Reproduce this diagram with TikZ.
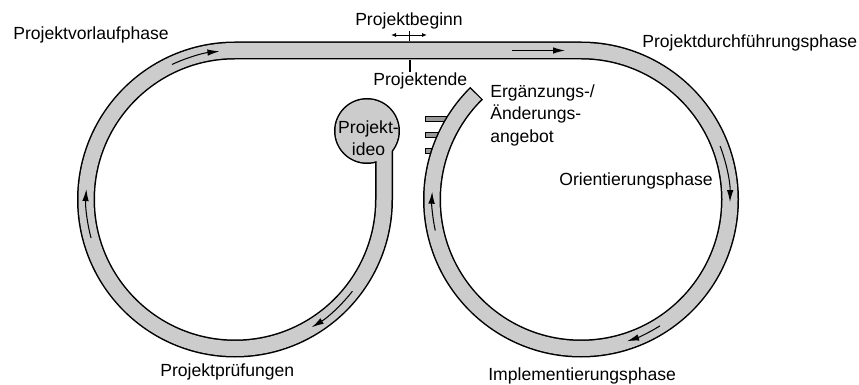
\documentclass[tikz,border=0pt]{standalone}
\usepackage{fontspec}
\setmainfont{Liberation Sans}
\usetikzlibrary{arrows.meta}
\tikzset{
  bandout/.style={line width=0.36cm, black},
  bandin/.style={line width=0.30cm, gray!40},
  flowarrow/.style={-{Latex[length=2.4mm,width=1.3mm]}, line width=0.6pt},
  lbl/.style={anchor=base west, inner sep=0pt, font=\fontsize{10}{12.8}\selectfont}
}
% centre line of the band, from the idea circle round both loops
\newcommand{\bandpath}[1]{(7.68,4.85) -- (7.68,3.69)
  arc[start angle=0, end angle=-270, radius=2.98] -- (11.62,6.67)
  arc[start angle=90, end angle=#1, radius=2.98]}
\begin{document}
\begin{tikzpicture}
  \useasboundingbox (0,0) rectangle (17.18,7.68);
  \coordinate (c1) at (4.70,3.69);
  \coordinate (c2) at (11.62,3.69);
  \coordinate (idee) at (7.34,5.06);
  % bars at the offer
  \foreach \y/\w in {5.26/0.6, 4.94/0.5, 4.62/0.4}
    \filldraw[fill=gray!80, line width=0.3pt] (8.5,\y) rectangle ++(\w,0.09);
  % Band
  \draw[bandout] \bandpath{-225.5};
  \fill (idee) circle (0.66);
  \draw[bandin] \bandpath{-225};
  \fill[gray!40] (idee) circle (0.63);
  % Arrows in the band
  \foreach \c/\a/\b in {c1/115/96, c1/195/176, c1/-38/-59,
                        c2/21/-1, c2/-58/-72, c2/192/177}
    \draw[flowarrow] (\c) ++(\a:2.98) arc[start angle=\a, end angle=\b, radius=2.98];
  \draw[flowarrow] (10.24,6.67) -- (11.30,6.67);
  % Labels
  \node[align=center, inner sep=0pt, font=\fontsize{10}{12.5}\selectfont]
    (ideetext) at (7.37,4.92) {Projekt-\\ideo};
  \node[lbl] (vorlauf) at (0.26,6.88) {Projektvorlaufphase};
  \node[lbl, anchor=base] (beginn) at (8.18,7.16) {Projektbeginn};
  \node[lbl] (ende) at (7.46,5.96) {Projektende};
  \node[lbl] (durch) at (12.84,6.72) {Projektdurchführungsphase};
  \node[lbl, anchor=north west, align=left] (angebot) at (9.80,6.0)
    {Ergänzungs-/\\Änderungs-\\angebot};
  \node[lbl] (orient) at (11.18,3.96) {Orientierungsphase};
  \node[lbl] (impl) at (9.76,0.06) {Implementierungsphase};
  \node[lbl] (pruef) at (3.20,0.14) {Projektprüfungen};
  % Start and end marks
  \coordinate (bt) at (8.18,7.05);
  \coordinate (bb) at (8.18,6.86);
  \draw[line width=0.5pt] (bt) -- (bb);
  \draw[{Latex[length=1mm,width=0.8mm]}-{Latex[length=1mm,width=0.8mm]}, line width=0.5pt]
    (7.82,6.98) -- (8.54,6.98);
  \coordinate (et) at (8.20,6.48);
  \coordinate (eb) at (8.20,6.24);
  \draw[line width=0.6pt] (et) -- (eb);
\end{tikzpicture}
\end{document}
